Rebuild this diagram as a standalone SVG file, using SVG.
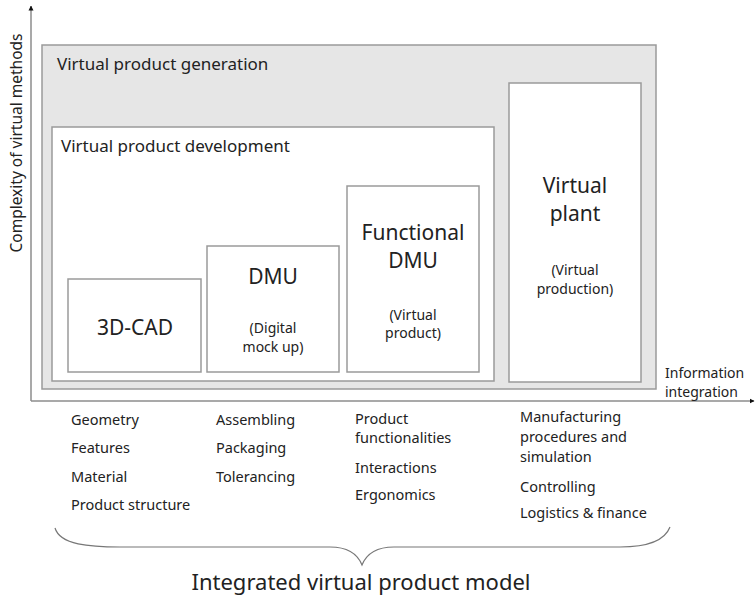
<svg xmlns="http://www.w3.org/2000/svg" width="755" height="597" viewBox="0 0 755 597">
  <style>
    text { font-family: "Noto Sans", "DejaVu Sans", sans-serif; fill: #222; }
    .box { fill: #fff; stroke: #9a9a9a; stroke-width: 1.5; }
    .outer { fill: #e6e6e6; stroke: #9a9a9a; stroke-width: 1.5; }
    .axis { stroke: #8c8c8c; stroke-width: 1.5; fill: none; }
    .title { font-size: 17px; }
    .big { font-size: 21px; text-anchor: middle; }
    .small { font-size: 14px; text-anchor: middle; }
    .list { font-size: 14.5px; }
    .brace { fill: none; stroke: #777; stroke-width: 1.2; }
  </style>
  <defs>
    <marker id="arrow" viewBox="0 0 10 10" refX="9" refY="5" markerWidth="5" markerHeight="6" orient="auto" markerUnits="userSpaceOnUse">
      <path d="M0,0 L10,5 L0,10 Z" fill="#111"/>
    </marker>
  </defs>

  <rect width="755" height="597" fill="#fff"/>

  <!-- axes -->
  <g id="connectors">
    <path class="axis" d="M31,401 V6" marker-end="url(#arrow)"/>
    <path class="axis" d="M31,401 H754" marker-end="url(#arrow)"/>
  </g>

  <text transform="translate(22,143) rotate(-90)" text-anchor="middle" font-size="15.5">Complexity of virtual methods</text>
  <text x="665" y="378" font-size="14">Information</text>
  <text x="665" y="397" font-size="14">integration</text>

  <!-- nested scopes -->
  <g id="virtual-product-generation">
    <rect class="outer" x="42" y="45" width="614" height="344"/>
    <text class="title" x="57" y="70">Virtual product generation</text>
  </g>

  <g id="virtual-product-development">
    <rect class="box" x="52" y="127" width="442" height="254"/>
    <text class="title" x="61" y="152">Virtual product development</text>
  </g>

  <g id="cad">
    <rect class="box" x="68" y="279" width="133" height="93"/>
    <text class="big" x="135" y="335">3D-CAD</text>
  </g>

  <g id="dmu">
    <rect class="box" x="207" y="246" width="132" height="126"/>
    <text class="big" x="273" y="284">DMU</text>
    <text class="small" x="273" y="333">(Digital</text>
    <text class="small" x="273" y="352">mock up)</text>
  </g>

  <g id="functional-dmu">
    <rect class="box" x="347" y="186" width="132" height="186"/>
    <text class="big" x="413" y="240">Functional</text>
    <text class="big" x="413" y="268">DMU</text>
    <text class="small" x="413" y="320">(Virtual</text>
    <text class="small" x="413" y="338">product)</text>
  </g>

  <g id="virtual-plant">
    <rect class="box" x="509" y="83" width="132" height="299"/>
    <text class="big" x="575" y="193">Virtual</text>
    <text class="big" x="575" y="221">plant</text>
    <text class="small" x="575" y="275">(Virtual</text>
    <text class="small" x="575" y="294">production)</text>
  </g>

  <!-- content lists -->
  <g id="list-cad">
    <text class="list" x="71" y="425">Geometry</text>
    <text class="list" x="71" y="453">Features</text>
    <text class="list" x="71" y="482">Material</text>
    <text class="list" x="71" y="510">Product structure</text>
  </g>
  <g id="list-dmu">
    <text class="list" x="216" y="425">Assembling</text>
    <text class="list" x="216" y="453">Packaging</text>
    <text class="list" x="216" y="482">Tolerancing</text>
  </g>
  <g id="list-functional">
    <text class="list" x="355" y="424">Product</text>
    <text class="list" x="355" y="443">functionalities</text>
    <text class="list" x="355" y="473">Interactions</text>
    <text class="list" x="355" y="500">Ergonomics</text>
  </g>
  <g id="list-plant">
    <text class="list" x="520" y="422">Manufacturing</text>
    <text class="list" x="520" y="442">procedures and</text>
    <text class="list" x="520" y="462">simulation</text>
    <text class="list" x="520" y="492">Controlling</text>
    <text class="list" x="520" y="518">Logistics &amp; finance</text>
  </g>

  <!-- brace -->
  <g id="brace">
    <path class="brace" d="M55,528 C60,545 90,547 120,547 L330,547 C350,547 358,555 362,565 C366,555 374,547 394,547 L620,547 C650,547 665,540 670,527"/>
    <text x="361" y="590" font-size="22" text-anchor="middle">Integrated virtual product model</text>
  </g>
</svg>
